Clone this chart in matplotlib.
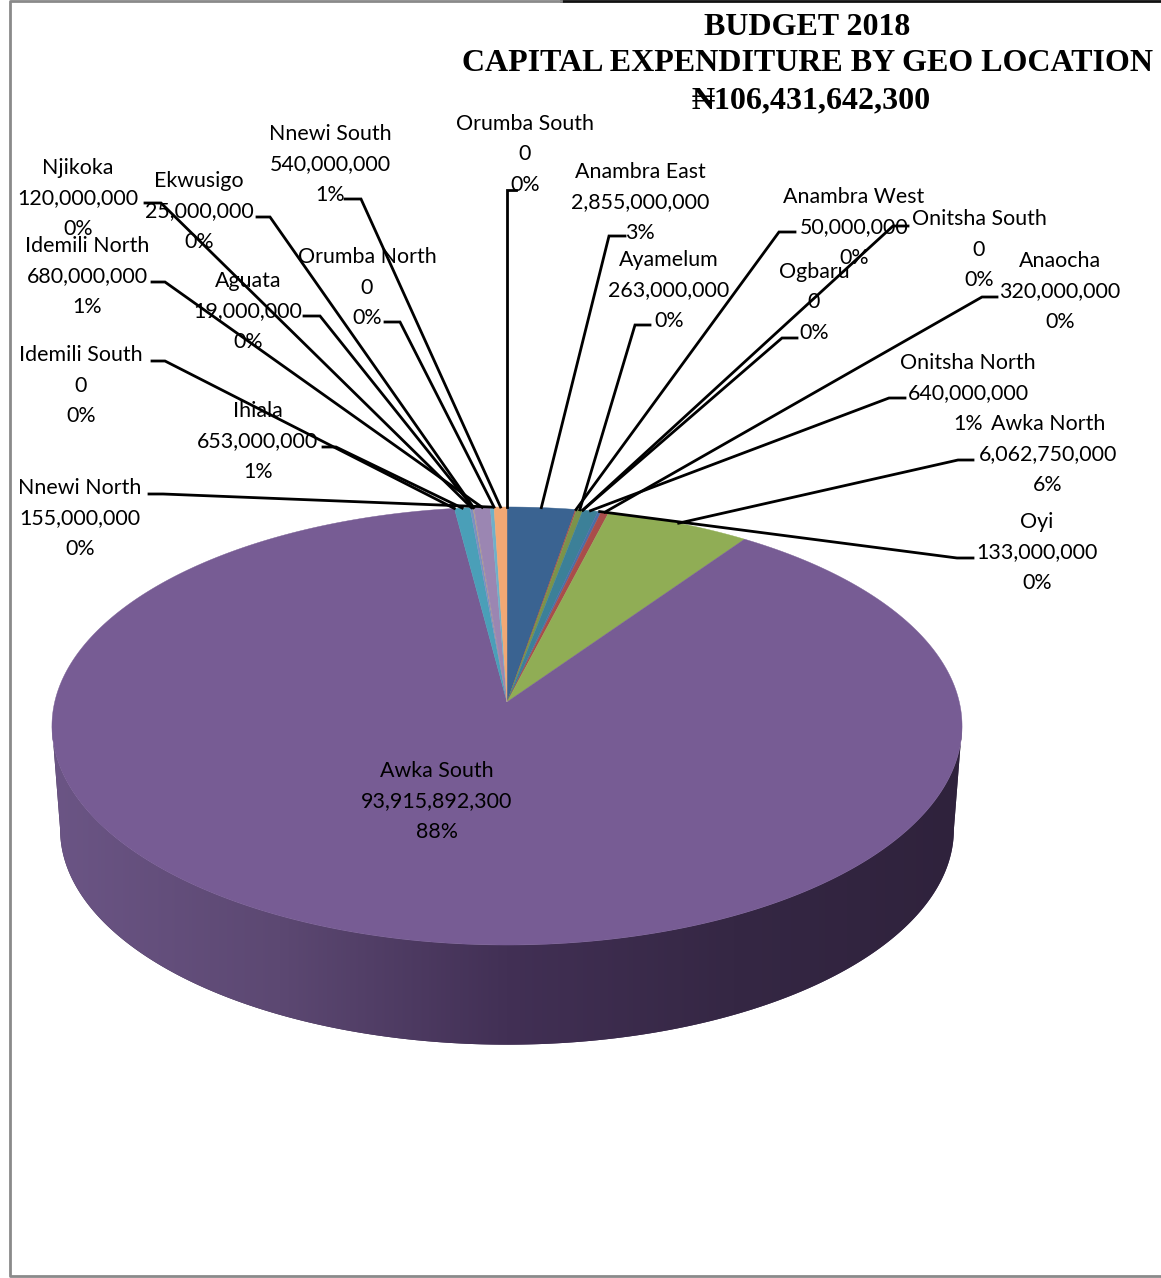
import numpy as np
import matplotlib
matplotlib.use('Agg')
import matplotlib.pyplot as plt

# budget per local government, clockwise from 12 o'clock
lgas = ['Orumba South', 'Anambra East', 'Anambra West', 'Ayamelum', 'Ogbaru',
        'Onitsha South', 'Onitsha North', 'Oyi', 'Anaocha', 'Awka North',
        'Awka South', 'Idemili South', 'Ihiala', 'Njikoka', 'Aguata',
        'Ekwusigo', 'Idemili North', 'Nnewi North', 'Orumba North', 'Nnewi South']
amounts = [0, 2855000000, 50000000, 263000000, 0,
           0, 640000000, 133000000, 320000000, 6062750000,
           93915892300, 0, 653000000, 120000000, 19000000,
           25000000, 680000000, 155000000, 0, 540000000]
slice_colors = ['#4f81bd', '#3a6391', '#a94d4a', '#7b934a', '#775c94',
                '#3c8098', '#3c8098', '#4a6fa8', '#a94d4a', '#90ad55',
                '#775c94', '#4a9fb8', '#4a9fb8', '#7d8fc0', '#b0a090',
                '#b0a090', '#9b86b2', '#6fb0c8', '#6fb0c8', '#f2a874']

# label centre x, first line y, then the leader: text end and elbow x,y
label_pos = {
    'Nnewi South': (330, 134, 345, 361, 199),
    'Orumba South': (525, 124, 516, 507, 190),
    'Anambra East': (640, 172, 625, 609, 236),
    'Anambra West': (854, 197, 795, 779, 232),
    'Onitsha South': (979, 219, 908, 893, 226),
    'Anaocha': (1060, 261, 997, 982, 297),
    'Ayamelum': (669, 260, 650, 635, 325),
    'Ogbaru': (814, 272, 797, 782, 338),
    'Onitsha North': (968, 363, 905, 889, 398),
    'Awka North': (1048, 424, 973, 958, 460),
    'Oyi': (1037, 522, 973, 957, 558),
    'Awka South': (437, 771, None, None, None),
    'Njikoka': (78, 168, 145, 161, 203),
    'Ekwusigo': (199, 181, 257, 270, 217),
    'Idemili North': (87, 246, 152, 165, 282),
    'Aguata': (248, 281, 304, 320, 316),
    'Orumba North': (367, 257, 385, 400, 322),
    'Idemili South': (81, 355, 152, 165, 361),
    'Ihiala': (258, 411, 323, 336, 447),
    'Nnewi North': (80, 488, 149, 163, 494),
}

plt.rcParams['font.family'] = ['Lato', 'DejaVu Sans']

fig = plt.figure(figsize=(11.61, 12.78), dpi=100)
ax = fig.add_axes([0, 0, 1, 1])
ax.set_xlim(0, 1161)
ax.set_ylim(1278, 0)
ax.axis('off')

# pie seen in perspective: far rim is squeezed towards the apex
apex_x, apex_y = 507, 702
rx, ry, persp = 452.3, 216.4, 0.1096
low_scale, low_apex_y = 0.982, 806


def rim(theta, scale=1.0, y0=apex_y):
    w = 1 + persp * np.cos(theta)
    return apex_x + scale * rx * np.sin(theta) / w, y0 - scale * ry * np.cos(theta) / w


# side wall with a left to right shading, the bottom rim is a little narrower
t = np.radians(np.linspace(96.3, 263.7, 300))
ux, uy = rim(t)
lx, ly = rim(t, low_scale, low_apex_y)
wall_x = np.r_[ux, lx[::-1]]
wall_y = np.r_[uy, ly[::-1]]
wall = ax.fill(wall_x, wall_y, color='#3f2f50', lw=0, zorder=1)[0]
stops = np.array([[0x6b, 0x55, 0x85], [0x5c, 0x48, 0x72], [0x42, 0x30, 0x55],
                  [0x35, 0x27, 0x44], [0x2f, 0x22, 0x3c]]) / 255
xs = np.linspace(0, 1, 500)
grad = np.stack([np.interp(xs, np.linspace(0, 1, 5), stops[:, i]) for i in range(3)], axis=-1)[None, :, :]
im = ax.imshow(grad, extent=(52, 962, 1278, 0), aspect='auto', zorder=1.5)
im.set_clip_path(wall)
ax.set_xlim(0, 1161)
ax.set_ylim(1278, 0)

# top face
total = sum(amounts)
edges = np.cumsum([0] + amounts) / total * 2 * np.pi
for i, v in enumerate(amounts):
    if v == 0:
        continue
    a = np.linspace(edges[i], edges[i + 1], max(int(v / total * 720), 2))
    px, py = rim(a)
    ax.fill(np.r_[apex_x, px], np.r_[apex_y, py], color=slice_colors[i], lw=0.3,
            ec=slice_colors[i], zorder=2)

# labels and leaders
for i, name in enumerate(lgas):
    cx, y0, x1, x2, y2 = label_pos[name]
    v = amounts[i]
    ax.text(cx, y0 + 30.5, f'{name}\n{v:,}\n{v / total * 100:.0f}%', ha='center', va='center',
            fontsize=15.4, linespacing=1.64, color='black', zorder=5)
    if x1 is None:
        continue
    ex, ey = rim((edges[i] + edges[i + 1]) / 2)
    ax.plot([x1, x2, ex], [y2, y2, ey], color='black', lw=2, zorder=4, solid_joinstyle='miter')

# title block
title_lines = ['BUDGET 2018', 'CAPITAL EXPENDITURE BY GEO LOCATION', '₦106,431,642,300']
for x, y, line in zip([807, 807, 811], [27.5, 63.5, 100.5], title_lines):
    ax.text(x, y, line, ha='center', va='center', fontsize=23, fontweight='bold',
            family=['Liberation Serif', 'DejaVu Serif'], zorder=5)

# chart frame
ax.plot([561, 1161], [1, 1], color='#111111', lw=2, zorder=6)
ax.plot([1161, 9.5, 9.5, 561], [1276, 1276, 1, 1], color='#8a8a8a', lw=2, zorder=6)

fig.savefig('out.png', dpi=100)
